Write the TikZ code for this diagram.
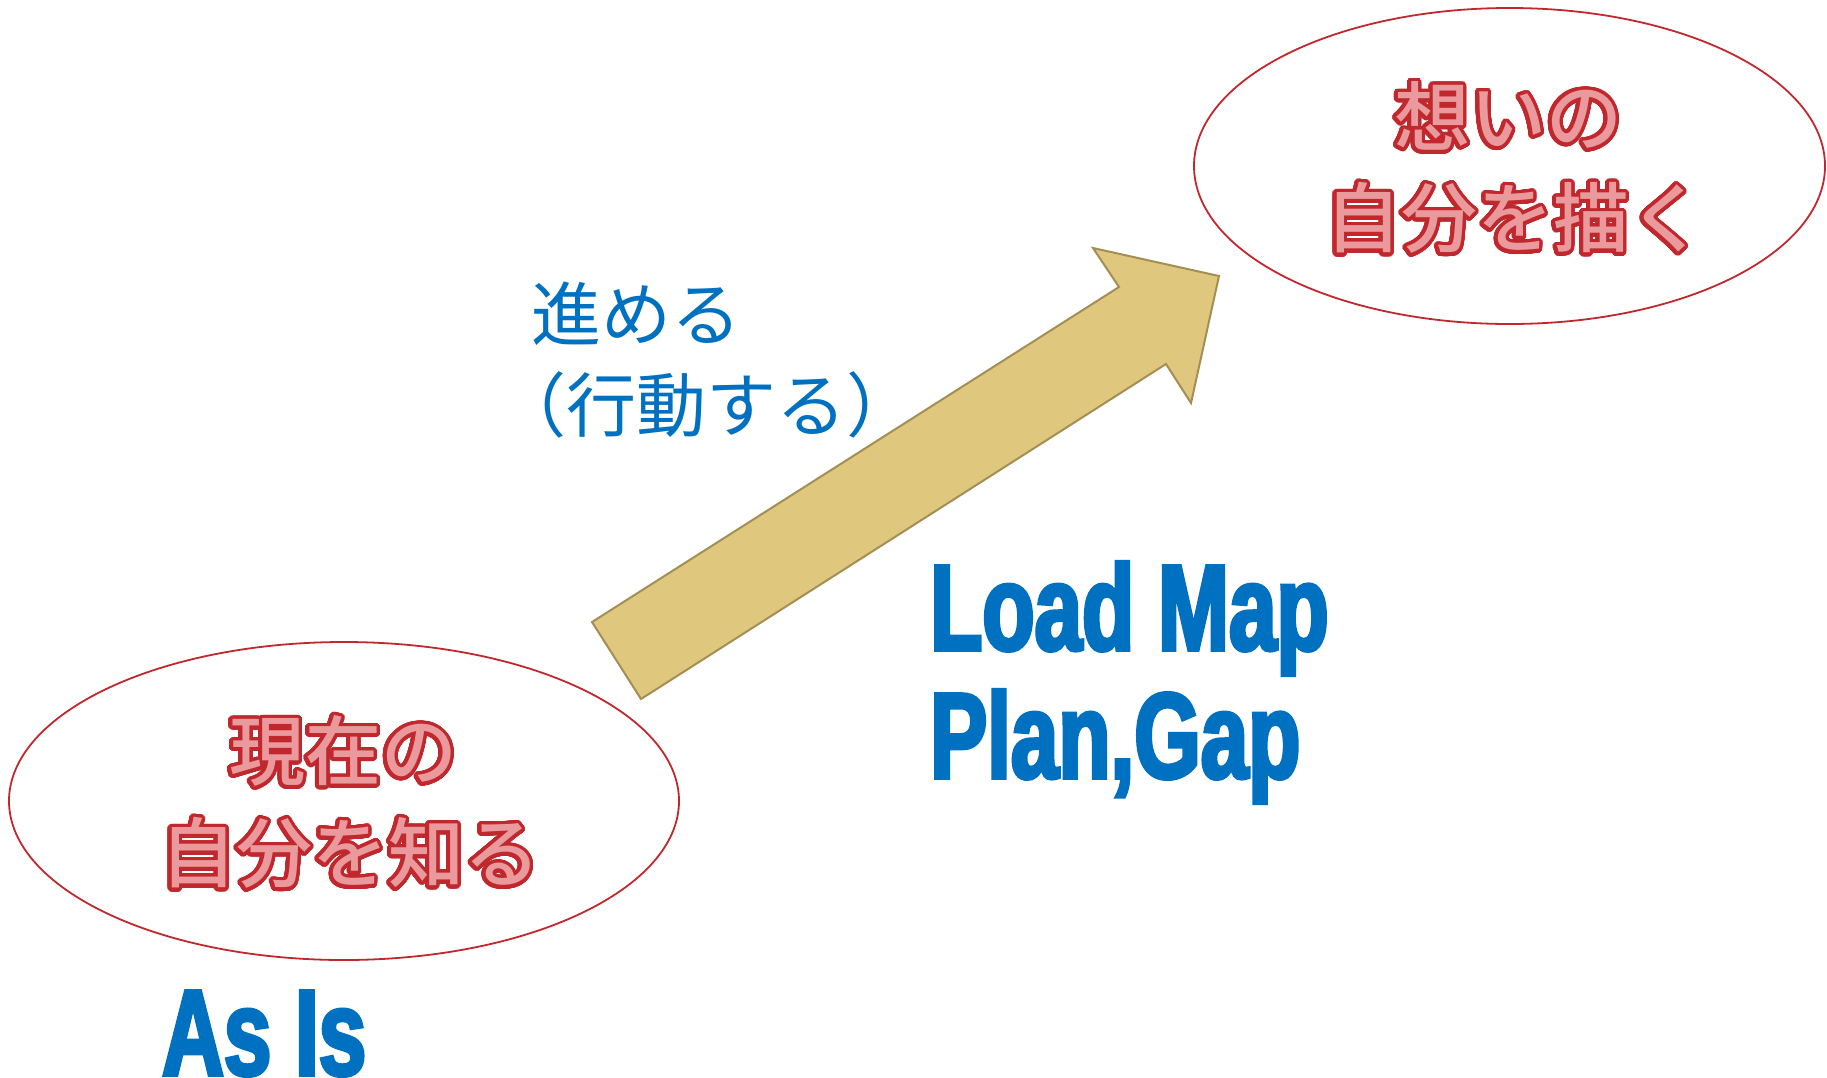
\documentclass[tikz,border=0pt]{standalone}
\usepackage{fontspec}
\usepackage{contour}
\usetikzlibrary{shapes.geometric}
\newfontfamily\jpfont{Noto Sans CJK JP}[BoldFont={Noto Sans CJK JP Medium}]
\newfontfamily\impactish{Liberation Sans Bold}[FakeStretch=0.70,FakeBold=3]
\definecolor{ellred}{HTML}{C0282D}
\definecolor{pinkfill}{HTML}{EA9A9C}
\definecolor{blueone}{HTML}{0070C0}
\definecolor{arrowfill}{HTML}{E0C77E}
\definecolor{arrowline}{HTML}{A38F55}
\contourlength{3.6pt}
\contournumber{48}
\tikzset{
  goalell/.style={ellipse, draw=ellred, line width=1.8pt, inner sep=0pt},
  redtext/.style={inner sep=0pt, anchor=center, text=pinkfill, font=\jpfont\bfseries\fontsize{76}{80}\selectfont},
  bluejp/.style={inner sep=0pt, anchor=west, text=blueone, font=\jpfont\fontsize{70}{76}\selectfont},
  bigblue/.style={inner sep=0pt, anchor=base west, text=blueone, font=\impactish\fontsize{122}{125}\selectfont},
  blockarrow/.style={fill=arrowfill, draw=arrowline, line width=2pt, line join=miter}
}
\begin{document}
\begin{tikzpicture}[x=1pt,y=-1pt]
\useasboundingbox (0,0) rectangle (1827,1077);
% ellipses
\node[goalell, minimum width=631pt, minimum height=316pt] (goal) at (1509.5,166) {};
\node[goalell, minimum width=670pt, minimum height=318pt] (now) at (344,801) {};
% block arrow
\coordinate (tailA) at (592,622);
\coordinate (tailB) at (641,699);
\coordinate (notchL) at (1166,364);
\coordinate (barbL) at (1191,403);
\coordinate (tip) at (1219,276);
\coordinate (barbU) at (1093,248);
\coordinate (notchU) at (1119,287);
\draw[blockarrow] (tailA) -- (tailB) -- (notchL) -- (barbL) -- (tip) -- (barbU) -- (notchU) -- cycle;
% red outlined texts
\node[redtext] (goal1) at (1508,118) {\contour{ellred}{想いの}};
\node[redtext] (goal2) at (1515,220) {\contour{ellred}{自分を描く}};
\node[redtext] (now1) at (343,753) {\contour{ellred}{現在の}};
\node[redtext] (now2) at (350,855) {\contour{ellred}{自分を知る}};
% blue japanese
\node[bluejp] (act1) at (531,314) {進める};
\node[bluejp] (act2) at (531,405) {\makebox[0.5em][r]{（}行動する\makebox[0.5em][l]{）}};
% blue latin
\node[bigblue] (lm1) at (930,650) {Load Map};
\node[bigblue] (lm2) at (930,778) {Plan,Gap};
\node[bigblue] (asis) at (162,1075) {As Is};
\end{tikzpicture}
\end{document}
